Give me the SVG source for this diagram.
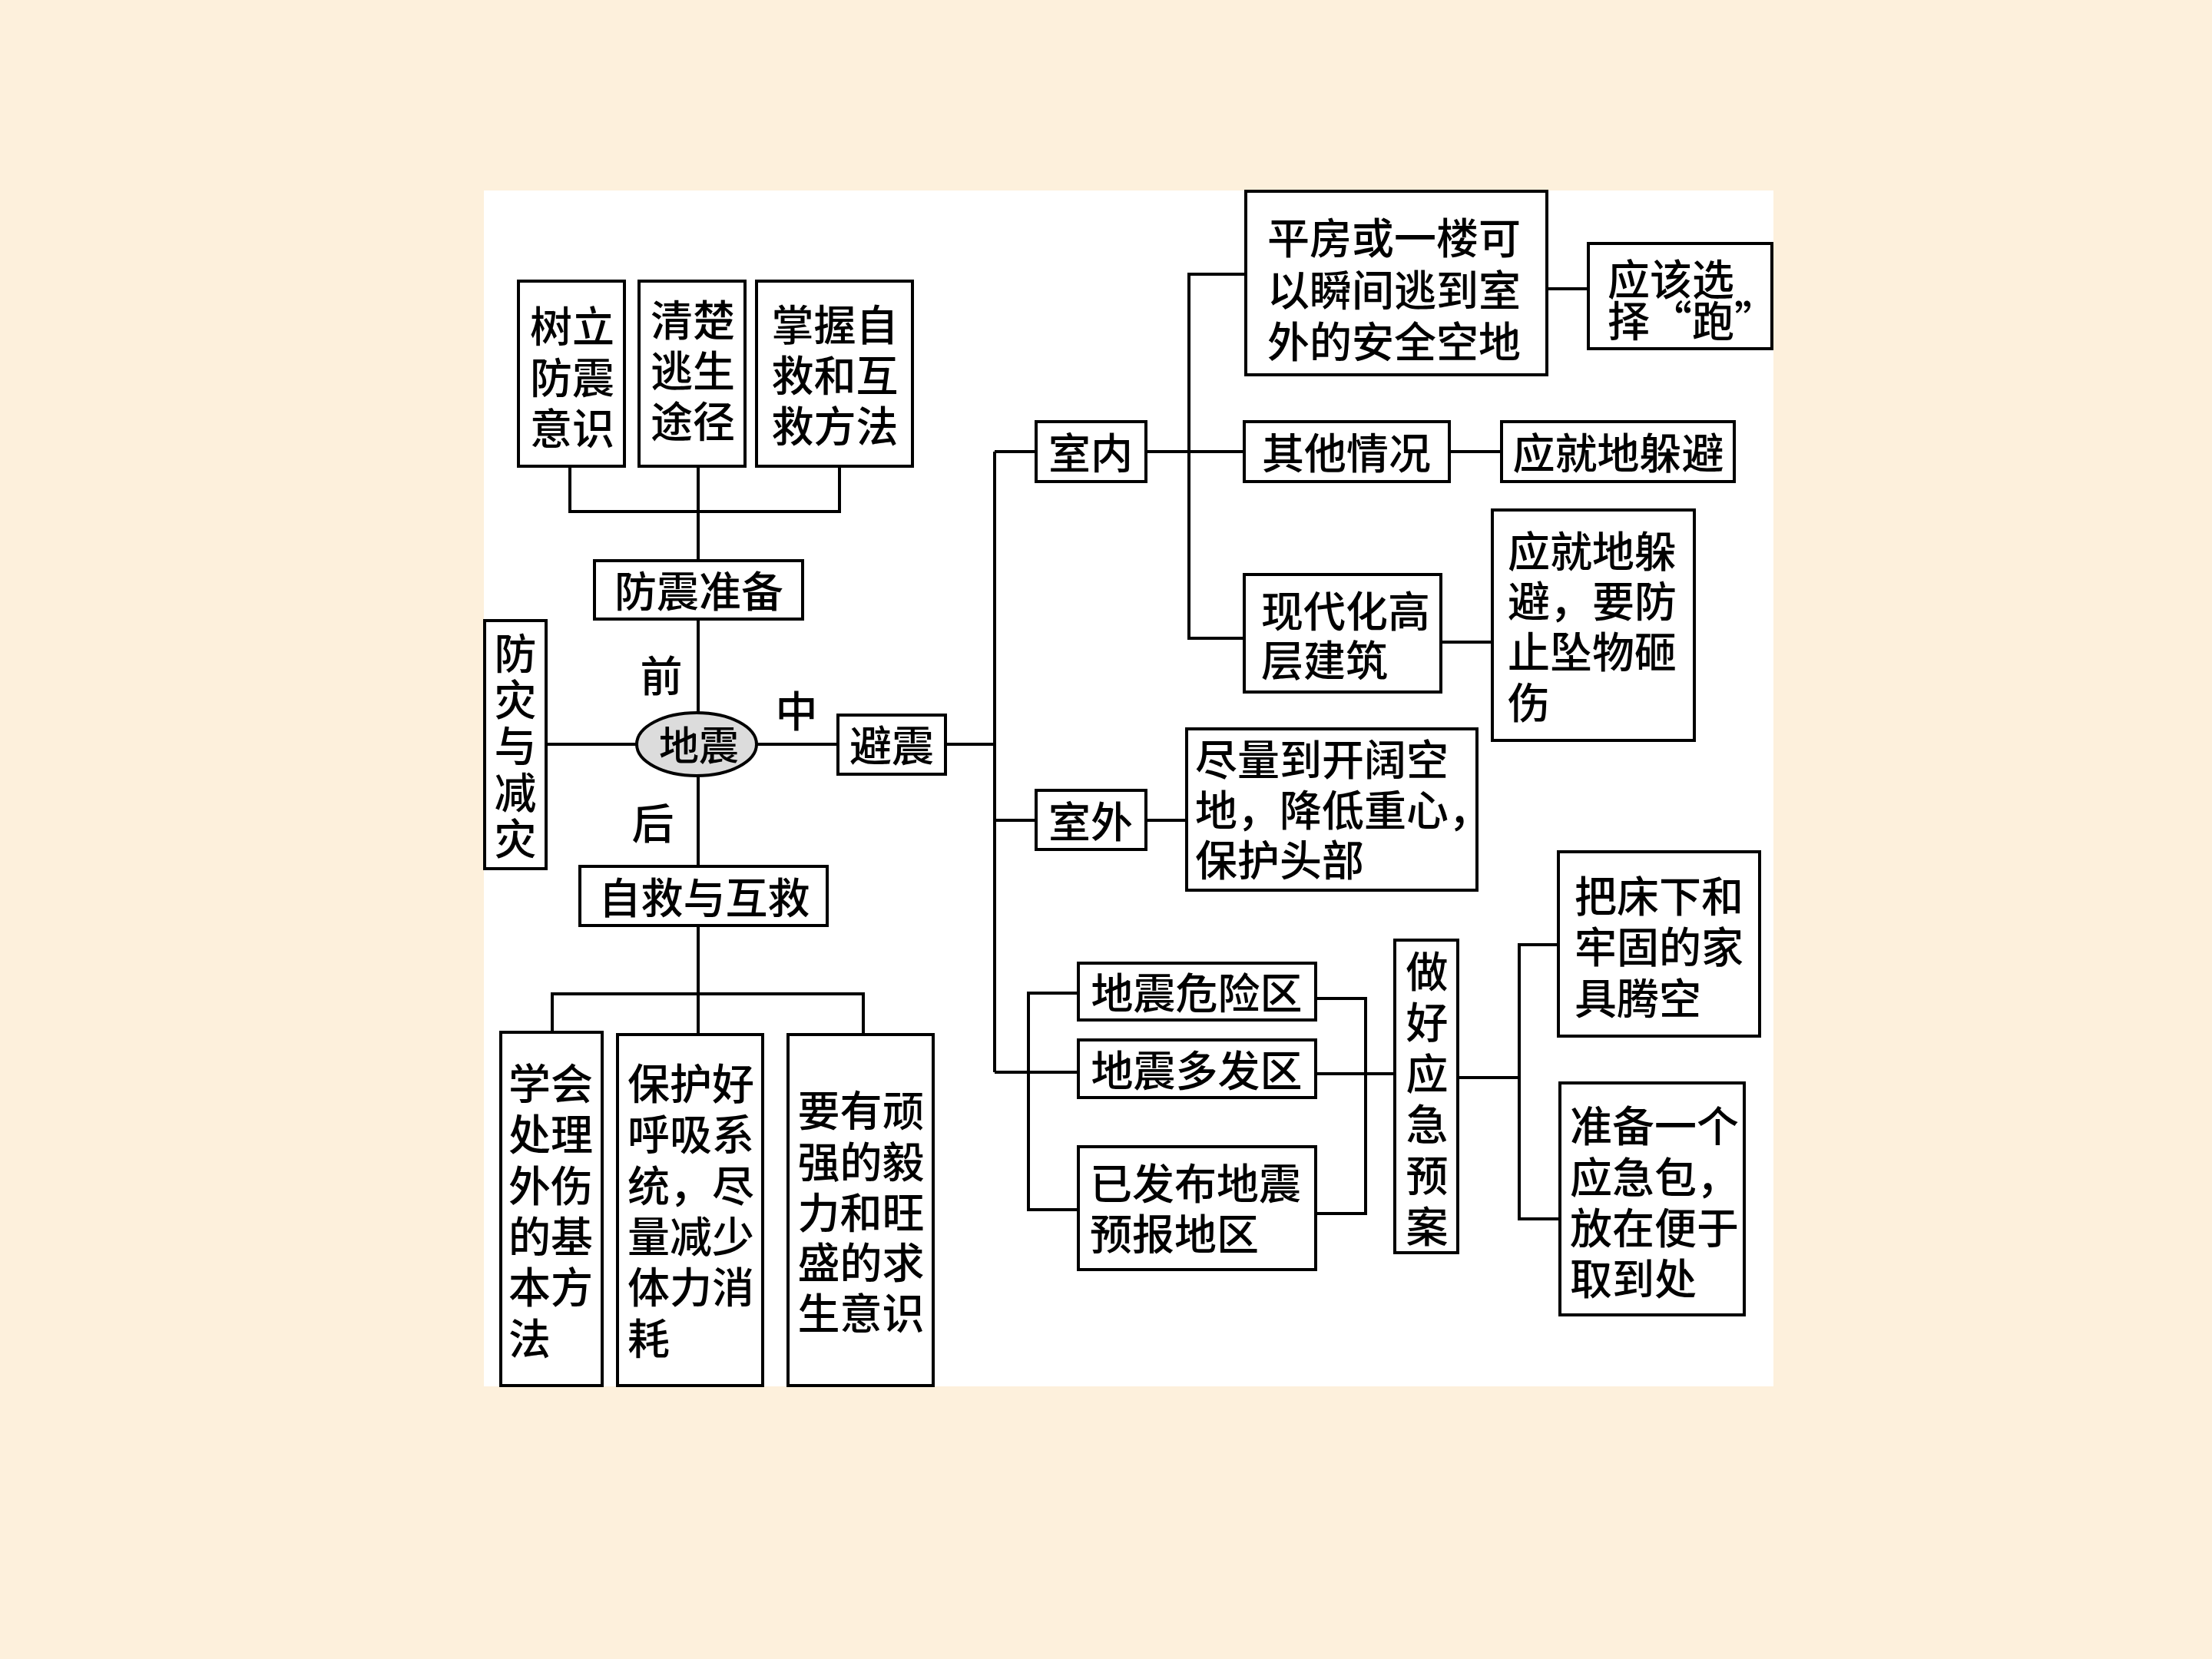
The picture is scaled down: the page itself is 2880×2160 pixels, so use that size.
<svg xmlns="http://www.w3.org/2000/svg" width="2880" height="2160" viewBox="0 0 2880 2160">
<style>
.box{fill:#fff;stroke:#000;stroke-width:4}
.t{font-family:"Noto Sans CJK SC","Noto Sans CJK TC",sans-serif;font-size:55px;font-weight:500;fill:#000;dominant-baseline:central}
.m{text-anchor:middle}
.s{text-anchor:start}
.c{fill:none;stroke:#000;stroke-width:4}
</style>
<rect x="0" y="0" width="2880" height="2160" fill="#FDF0DC"/>
<rect x="630" y="248" width="1679" height="1557" fill="#fff"/>

<g id="connectors">
<path class="c" d="M742,607 V666 H1093 V607 M909,607 V730"/>
<path class="c" d="M909,806 V928 M711,969 H829 M985,969 H1091 M909,1010 V1128"/>
<path class="c" d="M909,1205 V1347 M719,1344 V1294 H1124 V1347"/>
<path class="c" d="M1231,969 H1295 M1295,588 V1396 M1295,588 H1349 M1295,1068 H1349 M1295,1396 H1404"/>
<path class="c" d="M1492,588 H1620 M1622,357 H1548 V831 H1620"/>
<path class="c" d="M2014,376 H2068 M1887,588 H1955 M1876,836 H1943 M1492,1068 H1545"/>
<path class="c" d="M1404,1293 H1339 V1575 H1404 M1713,1300 H1778 V1580 H1713 M1713,1398 H1816"/>
<path class="c" d="M1898,1403 H1978 M2029,1230 H1978 V1587 H2031"/>
</g>

<g id="n-shuli"><rect class="box" x="675" y="366" width="138" height="241"/>
<text class="t m"><tspan x="745" y="421">树立</tspan><tspan x="745" y="488">防震</tspan><tspan x="745" y="554">意识</tspan></text></g>
<g id="n-qingchu"><rect class="box" x="832" y="366" width="138" height="241"/>
<text class="t m"><tspan x="902" y="413">清楚</tspan><tspan x="902" y="479">逃生</tspan><tspan x="902" y="545">途径</tspan></text></g>
<g id="n-zhangwo"><rect class="box" x="985" y="366" width="203" height="241"/>
<text class="t m"><tspan x="1087" y="419">掌握自</tspan><tspan x="1087" y="485">救和互</tspan><tspan x="1087" y="551">救方法</tspan></text></g>
<g id="n-zhunbei"><rect class="box" x="774" y="730" width="271" height="76"/>
<text class="t m" x="910" y="766">防震准备</text></g>
<g id="n-fangzai"><rect class="box" x="631" y="808" width="80" height="323"/>
<text class="t m"><tspan x="671" y="847">防</tspan><tspan x="671" y="907">灾</tspan><tspan x="671" y="967">与</tspan><tspan x="671" y="1028">减</tspan><tspan x="671" y="1088">灾</tspan></text></g>
<g id="n-dizhen"><ellipse cx="907" cy="969" rx="78" ry="41" fill="#DCDCDC" stroke="#000" stroke-width="4"/>
<text class="t m" x="910" y="967" style="font-size:52px">地震</text></g>
<g id="labels">
<text class="t m" x="861" y="876">前</text>
<text class="t m" x="1037" y="922">中</text>
<text class="t m" x="850" y="1068">后</text>
</g>
<g id="n-bizhen"><rect class="box" x="1091" y="931" width="140" height="77"/>
<text class="t m" x="1161" y="967">避震</text></g>
<g id="n-zijiu"><rect class="box" x="755" y="1128" width="322" height="77"/>
<text class="t m" x="917" y="1165">自救与互救</text></g>
<g id="n-xuehui"><rect class="box" x="652" y="1344" width="132" height="460"/>
<text class="t s"><tspan x="662" y="1407">学会</tspan><tspan x="662" y="1473">处理</tspan><tspan x="662" y="1540">外伤</tspan><tspan x="662" y="1606">的基</tspan><tspan x="662" y="1672">本方</tspan><tspan x="662" y="1739">法</tspan></text></g>
<g id="n-baohu"><rect class="box" x="804" y="1347" width="189" height="457"/>
<text class="t s"><tspan x="817" y="1407">保护好</tspan><tspan x="817" y="1473">呼吸系</tspan><tspan x="817" y="1540">统，尽</tspan><tspan x="817" y="1606">量减少</tspan><tspan x="817" y="1672">体力消</tspan><tspan x="817" y="1739">耗</tspan></text></g>
<g id="n-yaoyou"><rect class="box" x="1026" y="1347" width="189" height="457"/>
<text class="t m"><tspan x="1121" y="1442">要有顽</tspan><tspan x="1121" y="1509">强的毅</tspan><tspan x="1121" y="1575">力和旺</tspan><tspan x="1121" y="1640">盛的求</tspan><tspan x="1121" y="1706">生意识</tspan></text></g>

<g id="n-shinei"><rect class="box" x="1349" y="549" width="143" height="78"/>
<text class="t m" x="1420" y="586">室内</text></g>
<g id="n-pingfang"><rect class="box" x="1622" y="249" width="392" height="239"/>
<text class="t m"><tspan x="1815" y="306">平房或一楼可</tspan><tspan x="1815" y="374">以瞬间逃到室</tspan><tspan x="1815" y="441">外的安全空地</tspan></text></g>
<g id="n-pao"><rect class="box" x="2068" y="317" width="239" height="137"/>
<text class="t s"><tspan x="2093" y="360">应该选</tspan><tspan x="2093" y="414">择“跑”</tspan></text></g>
<g id="n-qita"><rect class="box" x="1620" y="549" width="267" height="78"/>
<text class="t m" x="1753" y="586">其他情况</text></g>
<g id="n-duobi1"><rect class="box" x="1955" y="549" width="303" height="78"/>
<text class="t m" x="2107" y="586">应就地躲避</text></g>
<g id="n-gaoceng"><rect class="box" x="1620" y="748" width="256" height="153"/>
<text class="t s"><tspan x="1642" y="792">现代化高</tspan><tspan x="1642" y="856">层建筑</tspan></text></g>
<g id="n-duobi2"><rect class="box" x="1943" y="664" width="263" height="300"/>
<text class="t s"><tspan x="1963" y="714">应就地躲</tspan><tspan x="1963" y="779">避，要防</tspan><tspan x="1963" y="845">止坠物砸</tspan><tspan x="1963" y="911">伤</tspan></text></g>
<g id="n-shiwai"><rect class="box" x="1349" y="1029" width="143" height="77"/>
<text class="t m" x="1420" y="1066">室外</text></g>
<g id="n-jinliang"><rect class="box" x="1545" y="949" width="378" height="210"/>
<text class="t s"><tspan x="1556" y="985">尽量到开阔空</tspan><tspan x="1556" y="1051">地，降低重心，</tspan><tspan x="1556" y="1116">保护头部</tspan></text></g>
<g id="n-weixian"><rect class="box" x="1404" y="1254" width="309" height="74"/>
<text class="t m" x="1558" y="1289">地震危险区</text></g>
<g id="n-duofa"><rect class="box" x="1404" y="1354" width="309" height="75"/>
<text class="t m" x="1558" y="1390">地震多发区</text></g>
<g id="n-yubao"><rect class="box" x="1404" y="1493" width="309" height="160"/>
<text class="t s"><tspan x="1419" y="1537">已发布地震</tspan><tspan x="1419" y="1603">预报地区</tspan></text></g>
<g id="n-yuan"><rect class="box" x="1816" y="1224" width="82" height="407"/>
<text class="t m"><tspan x="1858" y="1261">做</tspan><tspan x="1858" y="1327">好</tspan><tspan x="1858" y="1394">应</tspan><tspan x="1858" y="1460">急</tspan><tspan x="1858" y="1527">预</tspan><tspan x="1858" y="1593">案</tspan></text></g>
<g id="n-chuang"><rect class="box" x="2029" y="1109" width="262" height="240"/>
<text class="t s"><tspan x="2050" y="1163">把床下和</tspan><tspan x="2050" y="1229">牢固的家</tspan><tspan x="2050" y="1296">具腾空</tspan></text></g>
<g id="n-bao"><rect class="box" x="2031" y="1410" width="240" height="302"/>
<text class="t s"><tspan x="2044" y="1462">准备一个</tspan><tspan x="2044" y="1529">应急包，</tspan><tspan x="2044" y="1595">放在便于</tspan><tspan x="2044" y="1661">取到处</tspan></text></g>
</svg>
